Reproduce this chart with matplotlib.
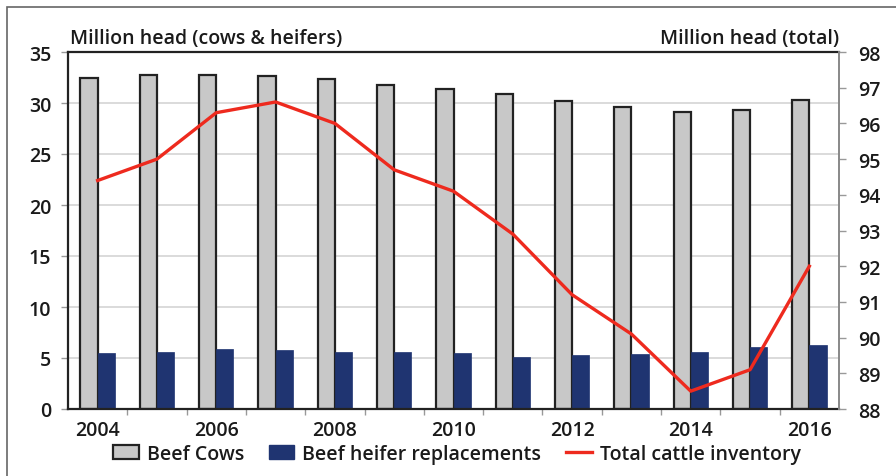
import matplotlib.pyplot as plt
from matplotlib.lines import Line2D
from matplotlib.patches import Patch, Rectangle

years = list(range(2004, 2017))
beef_cows = [32.5, 32.7, 32.7, 32.6, 32.4, 31.8, 31.4, 30.9, 30.2, 29.6, 29.1, 29.3, 30.3]
heifer_repl = [5.5, 5.6, 5.9, 5.8, 5.6, 5.6, 5.5, 5.1, 5.3, 5.4, 5.6, 6.1, 6.3]
total_cattle = [94.4, 95.0, 96.3, 96.6, 96.0, 94.7, 94.1, 92.9, 91.2, 90.1, 88.5, 89.1, 92.0]

plt.rcParams["font.family"] = ["Open Sans", "DejaVu Sans"]
plt.rcParams["font.weight"] = "semibold"

fig = plt.figure(figsize=(8.96, 4.77), dpi=100)
ax = fig.add_axes([68 / 896, 1 - 410 / 477, (839 - 68) / 896, (410 - 53) / 477])

# outer frame (cropped on the right and bottom)
fig.patches.append(Rectangle((7 / 896, -0.1), 1.2, 1.1 - 8 / 477,
                             transform=fig.transFigure, fill=False,
                             edgecolor="#666666", lw=1.2))

x = list(range(len(years)))
w = 0.29
ax.bar([i - w / 2 for i in x], beef_cows, width=w, color="#c8c8c8",
       edgecolor="#222222", lw=1.6, zorder=2)
ax.bar([i + w / 2 for i in x], heifer_repl, width=w, color="#1f3471",
       edgecolor="#1f3471", lw=0.5, zorder=2)

ax.set_xlim(-0.5, len(years) - 0.5)
ax.set_ylim(0, 35)
ax.set_yticks(range(0, 36, 5))
ax.yaxis.grid(True, color="#d8d8d8", lw=1.3, zorder=0)
ax.set_axisbelow(True)

ax.set_xticks([i + 0.5 for i in x[:-1]])
ax.set_xticklabels([])
ax.set_xticks(x, [str(y) if y % 2 == 0 else "" for y in years], minor=True)
ax.tick_params(axis="x", which="major", length=4, width=1, color="#999999", direction="out")
ax.tick_params(axis="x", which="minor", length=0, labelsize=14, pad=8, labelcolor="#1a1a1a")
ax.tick_params(axis="y", length=5, width=1, color="#999999", labelsize=14,
               labelcolor="#1a1a1a", pad=7)

for s in ["left", "top", "bottom"]:
    ax.spines[s].set_color("#222222")
    ax.spines[s].set_linewidth(1.6)
ax.spines["right"].set_visible(False)

ax2 = ax.twinx()
ax2.plot(x, total_cattle, color="#ee2a1e", lw=2.4, zorder=5)
ax2.set_ylim(88, 98)
ax2.set_yticks(range(88, 99))
ax2.tick_params(axis="y", length=5, width=1, color="#999999", labelsize=14,
                labelcolor="#1a1a1a", pad=9)
for s in ["left", "top", "bottom"]:
    ax2.spines[s].set_visible(False)
ax2.spines["right"].set_color("#888888")
ax2.spines["right"].set_linewidth(1.4)

fig.text(70 / 896, 1 - 44 / 477, "Million head (cows & heifers)", fontsize=14,
         color="#1a1a1a", ha="left", va="baseline")
fig.text(839 / 896, 1 - 44 / 477, "Million head (total)", fontsize=14,
         color="#1a1a1a", ha="right", va="baseline")

handles = [
    Patch(facecolor="#c8c8c8", edgecolor="#222222", lw=1.6),
    Patch(facecolor="#1f3471", edgecolor="#1f3471"),
    Line2D([0], [0], color="#ee2a1e", lw=2.4),
]
labels = ["Beef Cows", "Beef heifer replacements", "Total cattle inventory"]
fig.legend(handles, labels, loc="center", bbox_to_anchor=(457 / 896, 1 - 455 / 477),
           ncol=3, frameon=False, fontsize=14, handlelength=1.3, handletextpad=0.4,
           columnspacing=1.3, borderaxespad=0, labelcolor="#1a1a1a")

fig.savefig("out.png", dpi=100)
